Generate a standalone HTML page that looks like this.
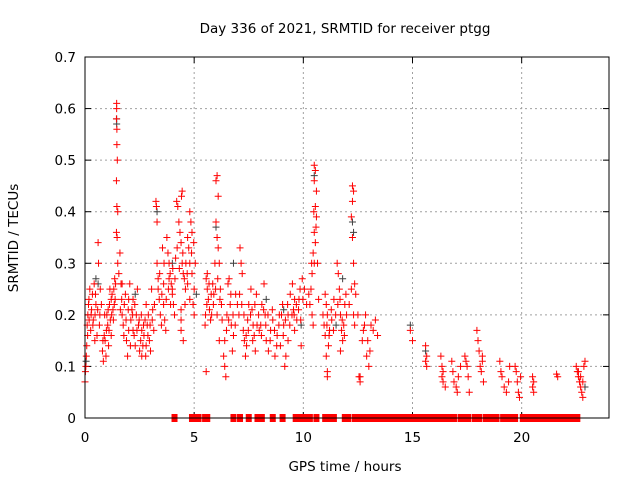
<!DOCTYPE html>
<html><head><meta charset="utf-8"><style>
body{margin:0;background:#fff}
svg{display:block;font-family:"DejaVu Sans","Liberation Sans",sans-serif}
</style></head><body>
<svg id="chart" width="640" height="480" viewBox="0 0 640 480">
<rect width="640" height="480" fill="#fff"/>
<text x="345" y="33" font-size="13.5" text-anchor="middle">Day 336 of 2021, SRMTID for receiver ptgg</text>
<text x="345" y="471" font-size="13.5" text-anchor="middle">GPS time / hours</text>
<text transform="translate(18,238) rotate(-90)" font-size="13.5" text-anchor="middle">SRMTID / TECUs</text>
<g id="grid"></g>
<g id="ticks"></g>
<g id="marks"></g>
<rect x="85" y="57" width="524" height="361" fill="none" stroke="#000" stroke-width="1"/>
</svg>
<script>
const xTicks=[0,5,10,15,20];
const yTicks=[0,0.1,0.2,0.3,0.4,0.5,0.6,0.7];
const yLabels=["0","0.1","0.2","0.3","0.4","0.5","0.6","0.7"];
const red=[
[0,.07],[0.02,.09],[0.04,.1],[0.06,.12],[0.08,.14],[0.1,.18],[0.13,.2],[0.16,.22],[0.19,.19],[0.22,.25],[0.26,.17],[0.3,.21],[0.34,.24],[0.38,.19],[0.42,.26],[0.46,.2],[0.5,.22],[0.6,.34],[0.62,.3],[0.66,.18],[0.7,.25],[0.55,.16],[0.45,.15],
[0.8,.13],[0.84,.11],[0.88,.16],[0.92,.15],[0.96,.12],[1.0,.2],[1.04,.18],[1.08,.14],[1.12,.22],[1.16,.19],[1.2,.16],[1.24,.24],[1.28,.21],[1.32,.25],[1.36,.27],[1.38,.23],[0.9,.2],[1.1,.17],[1.2,.23],
[1.45,.61],[1.45,.6],[1.44,.58],[1.46,.56],[1.46,.53],[1.48,.5],[1.44,.46],[1.46,.41],[1.5,.4],[1.44,.36],[1.47,.35],[1.5,.3],[1.55,.28],
[1.6,.32],[1.65,.26],[1.7,.2],[1.75,.18],[1.8,.22],[1.85,.24],[1.9,.15],[1.95,.12],[2.0,.17],[2.05,.26],[2.1,.19],[2.15,.21],[2.2,.23],[2.25,.16],[2.3,.14],[2.35,.2],[2.4,.25],[2.45,.18],[1.7,.26],[2.0,.23],[2.2,.17],
[2.5,.13],[2.55,.15],[2.6,.17],[2.65,.14],[2.7,.16],[2.75,.19],[2.8,.22],[2.85,.18],[2.9,.2],[2.95,.15],[3.0,.13],[3.05,.25],[3.1,.21],[3.15,.17],[2.6,.12],[2.8,.14],
[3.25,.42],[3.27,.41],[3.3,.38],[3.3,.3],[3.35,.27],[3.35,.25],[3.4,.23],[3.45,.2],[3.5,.18],[3.55,.33],[3.6,.26],[3.6,.22],[3.65,.19],[3.7,.17],
[3.75,.35],[3.8,.32],[3.85,.3],[3.9,.28],[3.95,.26],[4.0,.24],[4.05,.22],[4.1,.2],[4.15,.31],[3.85,.27],[4.0,.25],
[4.2,.42],[4.25,.41],[4.45,.44],[4.42,.43],[4.3,.38],[4.35,.36],[4.4,.34],[4.45,.3],[4.5,.28],[4.55,.27],[4.6,.25],[4.4,.21],[4.4,.19],[4.4,.17],[4.5,.15],
[4.8,.4],[4.85,.38],[4.9,.36],[4.7,.35],[4.75,.33],[4.8,.3],[4.9,.28],[5.0,.25],[4.95,.22],[5.0,.2],[4.7,.26],[4.8,.23],
[5.55,.09],[5.5,.18],[5.55,.27],[5.6,.25],[5.65,.23],[5.7,.21],[5.75,.19],[5.8,.2],[5.85,.26],[5.9,.24],[5.95,.3],[5.6,.28],
[6.05,.47],[6.0,.46],[6.1,.43],[6.0,.38],[6.05,.35],[6.1,.33],[6.15,.3],[6.2,.25],[6.25,.22],[6.05,.2],[6.15,.15],
[6.4,.1],[6.45,.08],[6.35,.12],[6.4,.15],[6.5,.2],[6.55,.26],[6.6,.27],[6.65,.22],[6.7,.18],[6.75,.13],[6.8,.16],[6.9,.24],
[7.1,.33],[7.15,.3],[7.2,.28],[7.05,.2],[7.25,.17],[7.3,.15],[7.35,.12],[7.4,.14],[7.45,.19],[7.5,.22],[7.6,.25],[7.65,.21],[7.7,.18],[7.75,.16],[7.8,.13],[7.85,.24],[7.95,.2],
[8.05,.18],[8.1,.22],[8.2,.26],[8.25,.2],[8.3,.15],[8.4,.13],[8.5,.17],[8.6,.19],[8.7,.12],[8.8,.16],[8.9,.2],[8.95,.14],
[9.0,.2],[9.05,.22],[9.1,.18],[9.15,.1],[9.2,.12],[9.3,.15],[9.4,.24],[9.5,.26],[9.55,.21],[9.6,.17],[9.7,.19],[9.8,.23],[9.85,.25],[9.9,.14],[9.95,.27],[9.3,.2],[9.6,.23],
[10.5,.49],[10.55,.48],[10.5,.46],[10.6,.44],[10.55,.41],[10.6,.39],[10.5,.36],[10.55,.34],[10.45,.32],[10.5,.3],[10.4,.28],[10.35,.25],[10.3,.22],[10.4,.2],[10.45,.18],
[11.0,.24],[11.05,.22],[11.1,.2],[11.0,.16],[11.05,.12],[11.1,.09],[11.1,.08],[11.15,.14],[11.2,.17],[11.3,.19],[11.4,.23],
[11.55,.3],[11.6,.28],[11.65,.25],[11.7,.2],[11.75,.17],[11.8,.15],[11.85,.18],[11.9,.22],[11.95,.24],[11.7,.13],
[12.25,.45],[12.3,.44],[12.25,.42],[12.2,.39],[12.25,.35],[12.3,.3],[12.35,.26],[12.3,.2],[12.35,.18],
[12.55,.08],[12.6,.08],[12.6,.07],[12.7,.15],[12.8,.18],[12.85,.2],[12.9,.12],[13.0,.1],[13.05,.13],[13.2,.17],[13.3,.19],
[14.9,.17],[15.0,.15],
[15.6,.14],[15.65,.12],[15.6,.11],[15.65,.1],
[16.3,.12],[16.35,.1],[16.4,.09],[16.35,.08],[16.4,.07],[16.5,.06],
[16.8,.11],[16.85,.09],[16.9,.07],[17.0,.06],[17.05,.05],[17.1,.08],[17.2,.1],
[17.4,.12],[17.45,.11],[17.5,.1],[17.55,.08],[17.6,.05],
[17.95,.17],[18.0,.15],[18.05,.13],[18.1,.1],[18.15,.09],[18.2,.12],[18.2,.11],[18.25,.07],
[19.0,.11],[19.05,.09],[19.1,.08],[19.2,.06],[19.3,.05],[19.4,.07],[19.45,.1],
[19.7,.1],[19.75,.09],[19.8,.07],[19.85,.05],[19.9,.04],[19.95,.08],
[20.5,.08],[20.55,.07],[20.5,.06],[20.55,.05],
[21.6,.085],[21.65,.08],
[22.5,.1],[22.55,.09],[22.6,.08],[22.65,.07],[22.7,.06],[22.75,.05],[22.8,.04],[22.85,.1],[22.9,.11],[22.6,.09],[22.7,.08],[22.8,.07],
[0.12,.16],[0.18,.23],[0.28,.2],[0.36,.18],[0.48,.24],[0.58,.21],[0.68,.2],[0.75,.22],[0.82,.15],[0.98,.17],[1.06,.21],[1.14,.25],[1.22,.2],[1.3,.19],[1.34,.22],[1.4,.26],
[1.62,.21],[1.68,.23],[1.78,.16],[1.88,.19],[1.98,.21],[2.08,.14],[2.18,.2],[2.28,.22],[2.38,.17],[2.48,.19],[2.58,.2],[2.68,.18],[2.78,.12],[2.88,.16],[2.98,.18],[3.08,.19],[3.18,.22],
[3.42,.28],[3.52,.24],[3.62,.3],[3.72,.23],[3.82,.25],[3.92,.22],[4.02,.29],[4.12,.27],[4.22,.33],[4.32,.29],[4.48,.32],[4.58,.22],[4.62,.3],[4.68,.28],[4.88,.32],[4.98,.34],[5.05,.3],
[5.52,.2],[5.58,.22],[5.68,.26],[5.78,.24],[5.88,.22],[5.98,.25],[6.08,.27],[6.18,.23],[6.28,.19],[6.48,.17],[6.58,.19],[6.68,.24],[6.78,.2],[6.88,.18],[6.98,.22],
[7.08,.24],[7.18,.22],[7.28,.2],[7.38,.16],[7.48,.17],[7.58,.2],[7.68,.15],[7.78,.22],[7.88,.18],[7.98,.17],[8.08,.16],[8.18,.21],[8.28,.18],[8.38,.2],[8.48,.15],[8.58,.21],[8.68,.17],[8.78,.14],[8.88,.18],
[9.08,.16],[9.18,.19],[9.28,.22],[9.38,.18],[9.48,.2],[9.58,.2],[9.68,.22],[9.78,.21],[9.88,.19],[9.98,.23],[10.05,.25],[10.15,.22],[10.25,.24],[10.38,.3],[10.48,.4],[10.58,.37],[10.65,.3],[10.7,.23],
[10.9,.2],[10.95,.18],[11.08,.18],[11.18,.16],[11.28,.21],[11.38,.17],[11.48,.2],[11.58,.22],[11.68,.23],[11.78,.19],[11.88,.16],[11.98,.2],[12.1,.22],[12.2,.25],[12.4,.24],[12.5,.2],[12.75,.17],[12.95,.15],[13.1,.18],[13.4,.16]
];
const black=[[0.05,.11],[0.5,.27],[1.45,.58],[1.45,.57],[3.3,.4],[6.0,.37],[6.8,.3],[9.1,.21],[10.5,.47],[11.8,.27],[12.25,.38],[12.3,.36],[14.9,.18],[15.6,.13],[22.9,.06],[0.6,.26],[2.3,.24],[4.0,.3],[5.1,.24],[8.3,.23],[9.9,.18],[11.5,.18]];
const zeroT=[4.1,4.9,5.05,5.2,5.5,5.6,6.8,7.1,7.5,7.9,8.1,8.6,9.05,9.65,9.75,10.0,10.1,10.3,10.6,11.0,11.25,11.4,11.9,12.05,12.35,12.6,12.75,12.9,13.1,13.3,13.5,13.75,13.95,14.15,14.3,14.5,14.65,14.85,15.0,15.15,15.3,15.45,15.6,15.8,16.05,16.3,16.5,16.75,16.9,17.2,17.35,17.55,17.85,18.05,18.35,18.5,18.7,18.85,19.15,19.3,19.45,19.7,20.05,20.2,20.4,20.6,20.75,20.9,21.05,21.25,21.4,21.55,21.7,21.9,22.05,22.2,22.4,22.55];
const X0=85,X1=609,Y0=418,Y1=57,XMAX=24,YMAX=0.7;
const sx=t=>X0+(X1-X0)*t/XMAX;
const sy=v=>Y0-(Y0-Y1)*v/YMAX;
const NS="http://www.w3.org/2000/svg";
const grid=document.getElementById('grid'),ticks=document.getElementById('ticks'),marks=document.getElementById('marks');
function mk(tag,attrs,parent){const e=document.createElementNS(NS,tag);for(const k in attrs)e.setAttribute(k,attrs[k]);parent.appendChild(e);return e;}
xTicks.forEach(t=>{
  const x=sx(t);
  if(t>0){const g=mk('line',{x1:x,x2:x,y1:Y1,y2:Y0,stroke:'#a0a0a0','stroke-dasharray':'2,3'},grid);
  
  }
  mk('line',{x1:x,x2:x,y1:Y0,y2:Y0-6,stroke:'#000'},ticks);
  mk('line',{x1:x,x2:x,y1:Y1,y2:Y1+6,stroke:'#000'},ticks);
  const l=mk('text',{x:x,y:Y0+24,'font-size':13.5,'text-anchor':'middle'},ticks);l.textContent=t;
  
  
});
yTicks.forEach((v,i)=>{
  const y=sy(v);
  if(v>0&&v<0.7){const g=mk('line',{x1:X0,x2:X1,y1:y,y2:y,stroke:'#a0a0a0','stroke-dasharray':'2,3'},grid);
  
  }
  mk('line',{x1:X0,x2:X0+6,y1:y,y2:y,stroke:'#000'},ticks);
  mk('line',{x1:X1,x2:X1-6,y1:y,y2:y,stroke:'#000'},ticks);
  const l=mk('text',{x:X0-9,y:y+5,'font-size':13.5,'text-anchor':'end'},ticks);l.textContent=yLabels[i];
  
  
});
function plus(t,v,c){
  const x=sx(t),y=sy(v);
  return mk('path',{d:`M${x-3.5},${y}h7M${x},${y-3.5}v7`,stroke:c,'stroke-width':1,fill:'none'},marks);
}
black.forEach(d=>{const p=plus(d[0],d[1],'#404040');
  
  });
red.forEach(d=>{const p=plus(d[0],d[1],'#ff0000');
  
  });
zeroT.forEach(t=>{const r=mk('rect',{x:sx(t)-3,y:sy(0)-4,width:6,height:8,fill:'#ff0000'},marks);
  
  });
</script>
</body></html>
